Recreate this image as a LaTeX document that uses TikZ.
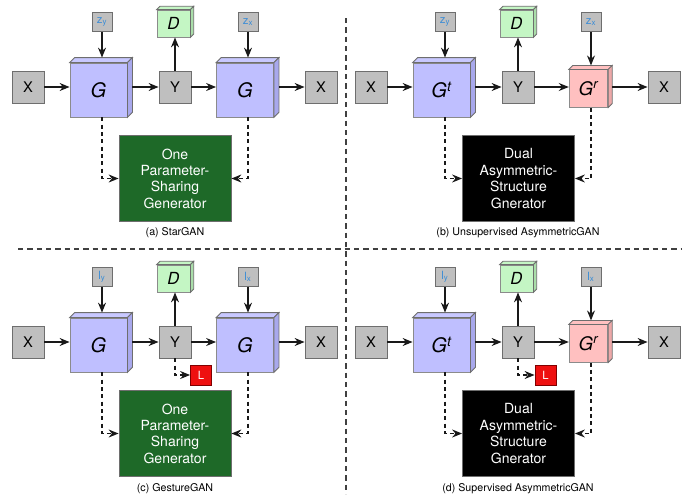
\documentclass[tikz,border=0pt]{standalone}
\usepackage{fontspec}
\setmainfont{TeX Gyre Heros}
\usetikzlibrary{arrows.meta,calc}

\definecolor{boxgray}{RGB}{191,191,191}
\definecolor{edgegray}{RGB}{110,110,110}
\definecolor{lav}{RGB}{191,191,255}
\definecolor{lavtop}{RGB}{200,200,255}
\definecolor{lavside}{RGB}{168,168,236}
\definecolor{mint}{RGB}{196,246,196}
\definecolor{mintside}{RGB}{170,222,170}
\definecolor{rose}{RGB}{255,192,192}
\definecolor{roseside}{RGB}{236,168,168}
\definecolor{sharegreen}{RGB}{30,105,40}
\definecolor{lossred}{RGB}{238,16,16}
\definecolor{zblue}{RGB}{58,140,214}

% top and right faces of a box node: node, top colour, side colour, depth
\newcommand{\cubefaces}[4]{%
  \filldraw[draw=edgegray, line width=0.6pt, fill=#2]
    (#1.north west) -- ++(#4,#4) -- ($(#1.north east)+(#4,#4)$) -- (#1.north east) -- cycle;
  \filldraw[draw=edgegray, line width=0.6pt, fill=#3]
    (#1.north east) -- ++(#4,#4) -- ($(#1.south east)+(#4,#4)$) -- (#1.south east) -- cycle;
}
\newcommand{\zlab}[2]{{\color{zblue}#1\textsubscript{#2}}}

\begin{document}
\begin{tikzpicture}[
  x=0.75pt, y=-0.75pt,
  >={Stealth[length=7.5pt,width=6pt,inset=2.5pt]},
  gbox/.style={draw=edgegray, fill=boxgray, line width=0.6pt, minimum width=24pt, minimum height=24pt, inner sep=0pt, font=\fontsize{11}{12}\selectfont},
  zbox/.style={draw=edgegray, fill=boxgray, line width=0.6pt, minimum width=15pt, minimum height=14.25pt, inner sep=0pt, font=\fontsize{8.5}{9}\selectfont},
  genbox/.style={draw=edgegray!80, fill=lav, line width=0.6pt, minimum width=42.75pt, minimum height=40.5pt, inner sep=0pt, font=\fontsize{15}{16}\selectfont\itshape},
  recbox/.style={draw=edgegray!80, fill=rose, line width=0.6pt, minimum width=29pt, minimum height=28pt, inner sep=0pt, font=\fontsize{14}{16}\selectfont\itshape},
  disbox/.style={draw=edgegray!80, fill=mint, line width=0.6pt, minimum width=24.75pt, minimum height=20.25pt, inner sep=0pt, font=\fontsize{12.5}{14}\selectfont\itshape},
  sharebox/.style={draw=edgegray, fill=sharegreen, text=white, line width=0.6pt, minimum width=84pt, minimum height=65pt, inner sep=0pt, align=center, font=\fontsize{10.5}{12.3}\selectfont},
  dualbox/.style={sharebox, fill=black},
  lossbox/.style={draw=red!50!black, fill=lossred, text=white, line width=0.6pt, minimum width=15.75pt, minimum height=15pt, inner sep=0pt, font=\fontsize{8.5}{9}\selectfont},
  caption/.style={font=\fontsize{8}{9}\selectfont},
  arr/.style={->, line width=0.85pt, draw=black!90},
  darr/.style={arr, dash pattern=on 3pt off 2.5pt},
  divider/.style={line width=0.8pt, draw=black!75, dash pattern=on 4pt off 3pt},
]
\useasboundingbox (0,0) rectangle (697,500);

% dividers
\draw[divider] (18,249) -- (681,249);
\draw[divider] (346,18) -- (346,494);

% (a) StarGAN
\begin{scope}
  \node[gbox] (xa) at (28,87) {X};
  \node[genbox] (ga) at (98.5,90) {G};
  \node[zbox] (za) at (102,22) {\zlab{z}{y}};
  \node[gbox] (ya) at (175,87) {Y};
  \node[disbox] (da) at (173.5,23.5) {D};
  \node[genbox] (g2a) at (245,90) {G};
  \node[zbox] (z2a) at (248,22) {\zlab{z}{x}};
  \node[gbox] (x2a) at (321,87) {X};
  \node[sharebox] (sa) at (175,178.5) {One\\Parameter-\\Sharing\\Generator};
  \node[caption] (ca) at (175,233) {(a) StarGAN};
  \cubefaces{ga}{lavtop}{lavside}{3.75pt}
  \cubefaces{g2a}{lavtop}{lavside}{3.75pt}
  \cubefaces{da}{mint}{mintside}{2.5pt}
  \draw[arr] (xa) -- (xa -| ga.west);
  \draw[arr] (za) -- ($(za |- ga.north)+(0,3.75pt)$);
  \draw[arr] ($(ya -| ga.east)+(3.75pt,0)$) -- (ya);
  \draw[arr] (ya) -- (ya |- da.south);
  \draw[arr] (ya) -- (ya -| g2a.west);
  \draw[arr] (z2a) -- ($(z2a |- g2a.north)+(0,3.75pt)$);
  \draw[arr] ($(x2a -| g2a.east)+(3.75pt,0)$) -- (x2a);
  \draw[darr] (ga.south -| za) |- (sa.west);
  \draw[darr] (g2a.south -| z2a) |- (sa.east);
\end{scope}

% (b) Unsupervised AsymmetricGAN
\begin{scope}[shift={(343,0)}]
  \node[gbox] (xb) at (28,87) {X};
  \node[genbox] (gb) at (98.5,90) {G\textsuperscript{t}};
  \node[zbox] (zb) at (102,22) {\zlab{z}{y}};
  \node[gbox] (yb) at (175,87) {Y};
  \node[disbox] (db) at (173.5,23.5) {D};
  \node[recbox] (g2b) at (245.5,88.5) {G\textsuperscript{r}};
  \node[zbox] (z2b) at (248,22) {\zlab{z}{x}};
  \node[gbox] (x2b) at (321,87) {X};
  \node[dualbox] (sb) at (175.5,178.5) {Dual\\Asymmetric-\\Structure\\Gnerator};
  \node[caption] (cb) at (175,233) {(b) Unsupervised AsymmetricGAN};
  \cubefaces{gb}{lavtop}{lavside}{3.75pt}
  \cubefaces{g2b}{rose}{roseside}{3pt}
  \cubefaces{db}{mint}{mintside}{2.5pt}
  \draw[arr] (xb) -- (xb -| gb.west);
  \draw[arr] (zb) -- ($(zb |- gb.north)+(0,3.75pt)$);
  \draw[arr] ($(yb -| gb.east)+(3.75pt,0)$) -- (yb);
  \draw[arr] (yb) -- (yb |- db.south);
  \draw[arr] (yb) -- (yb -| g2b.west);
  \draw[arr] (z2b) -- ($(z2b |- g2b.north)+(0,3pt)$);
  \draw[arr] ($(x2b -| g2b.east)+(3pt,0)$) -- (x2b);
  \draw[darr] (gb.south -| zb) |- (sb.west);
  \draw[darr] (g2b.south -| z2b) |- (sb.east);
\end{scope}

% (c) GestureGAN
\begin{scope}[shift={(0,255)}]
  \node[gbox] (xc) at (28,87) {X};
  \node[genbox] (gc) at (98.5,90) {G};
  \node[zbox] (zc) at (102,22) {\zlab{l}{y}};
  \node[gbox] (yc) at (175,87) {Y};
  \node[disbox] (dc) at (173.5,23.5) {D};
  \node[genbox] (g2c) at (245,90) {G};
  \node[zbox] (z2c) at (248,22) {\zlab{l}{x}};
  \node[gbox] (x2c) at (321,87) {X};
  \node[lossbox] (lc) at (201,120) {L};
  \node[sharebox] (sc) at (175,178.5) {One\\Parameter-\\Sharing\\Generator};
  \node[caption] (cc) at (175,234) {(c) GestureGAN};
  \cubefaces{gc}{lavtop}{lavside}{3.75pt}
  \cubefaces{g2c}{lavtop}{lavside}{3.75pt}
  \cubefaces{dc}{mint}{mintside}{2.5pt}
  \draw[arr] (xc) -- (xc -| gc.west);
  \draw[arr] (zc) -- ($(zc |- gc.north)+(0,3.75pt)$);
  \draw[arr] ($(yc -| gc.east)+(3.75pt,0)$) -- (yc);
  \draw[arr] (yc) -- (yc |- dc.south);
  \draw[arr] (yc) -- (yc -| g2c.west);
  \draw[arr] (z2c) -- ($(z2c |- g2c.north)+(0,3.75pt)$);
  \draw[arr] ($(x2c -| g2c.east)+(3.75pt,0)$) -- (x2c);
  \draw[darr] (yc) |- (lc.west);
  \draw[darr] (gc.south -| zc) |- (sc.west);
  \draw[darr] (g2c.south -| z2c) |- (sc.east);
\end{scope}

% (d) Supervised AsymmetricGAN
\begin{scope}[shift={(343,255)}]
  \node[gbox] (xd) at (28,87) {X};
  \node[genbox] (gd) at (98.5,90) {G\textsuperscript{t}};
  \node[zbox] (zd) at (102,22) {\zlab{l}{y}};
  \node[gbox] (yd) at (175,87) {Y};
  \node[disbox] (dd) at (173.5,23.5) {D};
  \node[recbox] (g2d) at (245.5,88.5) {G\textsuperscript{r}};
  \node[zbox] (z2d) at (248,22) {\zlab{l}{x}};
  \node[gbox] (x2d) at (321,87) {X};
  \node[lossbox] (ld) at (202.5,120) {L};
  \node[dualbox] (sd) at (175.5,178.5) {Dual\\Asymmetric-\\Structure\\Gnerator};
  \node[caption] (cd) at (175,234) {(d) Supervised AsymmetricGAN};
  \cubefaces{gd}{lavtop}{lavside}{3.75pt}
  \cubefaces{g2d}{rose}{roseside}{3pt}
  \cubefaces{dd}{mint}{mintside}{2.5pt}
  \draw[arr] (xd) -- (xd -| gd.west);
  \draw[arr] (zd) -- ($(zd |- gd.north)+(0,3.75pt)$);
  \draw[arr] ($(yd -| gd.east)+(3.75pt,0)$) -- (yd);
  \draw[arr] (yd) -- (yd |- dd.south);
  \draw[arr] (yd) -- (yd -| g2d.west);
  \draw[arr] (z2d) -- ($(z2d |- g2d.north)+(0,3pt)$);
  \draw[arr] ($(x2d -| g2d.east)+(3pt,0)$) -- (x2d);
  \draw[darr] (yd) |- (ld.west);
  \draw[darr] (gd.south -| zd) |- (sd.west);
  \draw[darr] (g2d.south -| z2d) |- (sd.east);
\end{scope}
\end{tikzpicture}
\end{document}
